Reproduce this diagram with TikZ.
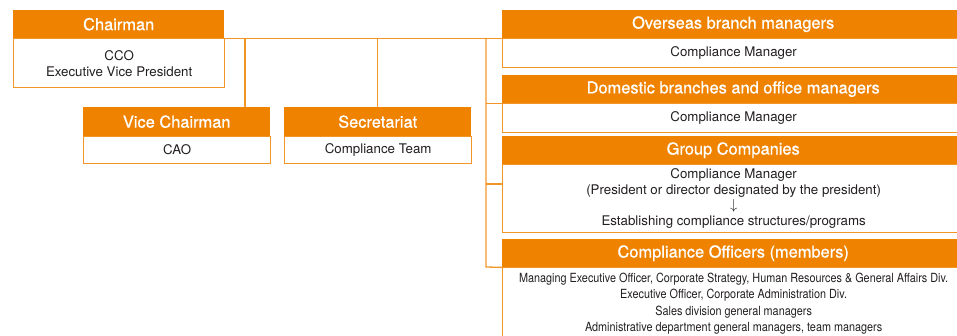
\documentclass[tikz,border=0pt]{standalone}
\usepackage{fontspec}
\setmainfont{TeX Gyre Heros}
\newfontfamily\narrowfont[FakeStretch=0.86]{TeX Gyre Heros}
\newfontfamily\hdrfont[FakeBold=0.7]{TeX Gyre Heros}
\definecolor{orgfill}{RGB}{239,131,0}
\definecolor{orgline}{RGB}{243,150,40}
\definecolor{txtdark}{RGB}{35,31,32}
\begin{document}
\begin{tikzpicture}[x=1pt,y=-1pt,
  hdr/.style={rectangle,fill=orgfill,text=white,inner sep=0pt,anchor=north west,
    font=\hdrfont\fontsize{16.4}{18}\selectfont},
  bdy/.style={rectangle,draw=orgline,line width=1.3pt,fill=white,text=txtdark,inner sep=0pt,
    anchor=north west,align=center,font=\fontsize{13.3}{16}\selectfont},
  conn/.style={draw=orgline,line width=1.3pt}]
\useasboundingbox (0,0) rectangle (957,336);
\clip (0,0) rectangle (957,336);
% left boxes
\node[hdr,minimum width=211pt,minimum height=28pt] (chh) at (13,10) {Chairman};
\node[bdy,minimum width=211pt,minimum height=49pt] (chb) at (13,38) {CCO\\Executive Vice President};
\node[hdr,minimum width=187pt,minimum height=29pt] (vch) at (83,107) {Vice Chairman};
\node[bdy,minimum width=187pt,minimum height=27pt] (vcb) at (83,136) {CAO};
\node[hdr,minimum width=187pt,minimum height=29pt] (sch) at (284,107) {Secretariat};
\node[bdy,minimum width=187pt,minimum height=27pt] (scb) at (284,136) {Compliance Team};
% right column
\node[hdr,minimum width=462pt,minimum height=28pt] (ovh) at (502,10) {Overseas branch managers};
\node[bdy,minimum width=462pt,minimum height=29pt] (ovb) at (502,38) {Compliance Manager};
\node[hdr,minimum width=462pt,minimum height=28pt] (dmh) at (502,75) {Domestic branches and office managers};
\node[bdy,minimum width=462pt,minimum height=29pt] (dmb) at (502,103) {Compliance Manager};
\node[hdr,minimum width=462pt,minimum height=28pt] (gch) at (502,136) {Group Companies};
\node[bdy,minimum width=462pt,minimum height=68pt,font=\fontsize{13.3}{15.6}\selectfont] (gcb) at (502,164)
  {Compliance Manager\\(President or director designated by the president)\\$\downarrow$\\Establishing compliance structures/programs};
\node[hdr,minimum width=462pt,minimum height=28pt] (coh) at (502,239) {Compliance Officers (members)};
\node[bdy,minimum width=462pt,minimum height=72pt,font=\narrowfont\fontsize{12.6}{16.4}\selectfont] (cob) at (502,267)
  {Managing Executive Officer, Corporate Strategy, Human Resources \& General Affairs Div.\\
   Executive Officer, Corporate Administration Div.\\
   Sales division general managers\\
   Administrative department general managers, team managers};
% connectors
\coordinate (trunktop) at (486,38);
\coordinate (trunkbot) at (486,267);
\coordinate (vcjoin) at (245,38);
\coordinate (gcjoin) at (486,184);
\draw[conn] (chh.south east) -- (ovh.south west);
\draw[conn] (trunktop) -- (trunkbot) -- (coh.south west);
\draw[conn] (trunktop |- dmh.south west) -- (dmh.south west);
\draw[conn] (gcjoin) -- (gcjoin -| gcb.west);
\draw[conn] (vcjoin) -- (vcjoin |- vch.north);
\draw[conn] (sch.north |- chh.south) -- (sch.north);
\end{tikzpicture}
\end{document}
